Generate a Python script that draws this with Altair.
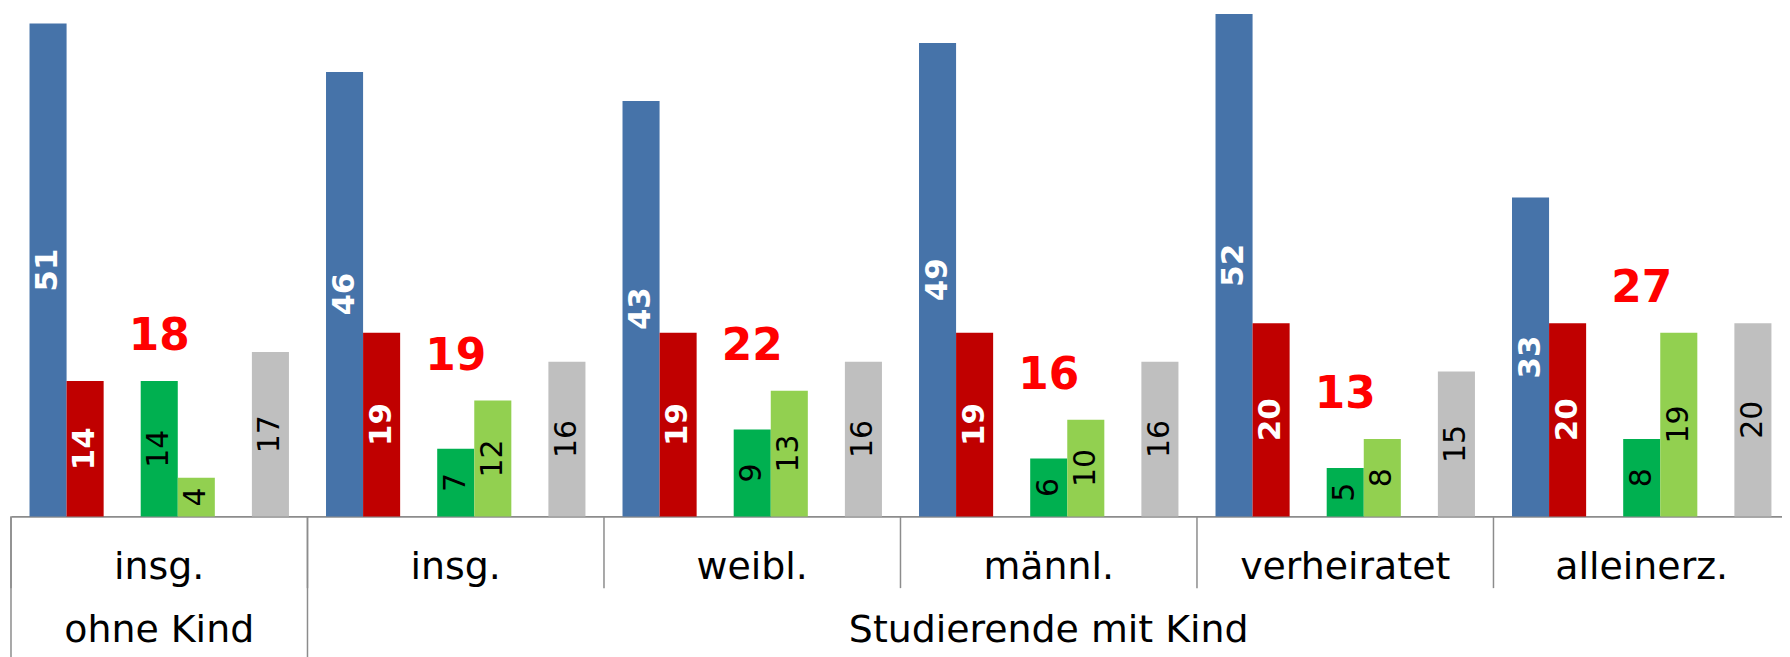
import altair as alt
import pandas as pd

# ---- data ----
group_keys = ["g1", "g2", "g3", "g4", "g5", "g6"]
group_labels = ["insg.", "insg.", "weibl.", "männl.", "verheiratet", "alleinerz."]
series = ["blau", "rot", "dunkelgrün", "hellgrün", "grau"]
blau = [51, 46, 43, 49, 52, 33]
rot = [14, 19, 19, 19, 20, 20]
dunkelgruen = [14, 7, 9, 6, 5, 8]
hellgruen = [4, 12, 13, 10, 8, 19]
grau = [17, 16, 16, 16, 15, 20]
super_labels = ["ohne Kind", "Studierende mit Kind"]
super_keys = ["g1", "g4"]

colors = ["#4673A9", "#C00000", "#00B050", "#92D050", "#BFBFBF"]

values = [blau, rot, dunkelgruen, hellgruen, grau]
rows = []
for s, vals in zip(series, values):
    for g, v in zip(group_keys, vals):
        rows.append({"group": g, "series": s, "value": v})
df = pd.DataFrame(rows)

sums = pd.DataFrame({
    "group": group_keys,
    "dg": dunkelgruen,
    "lg": hellgruen,
})

offset_domain = ["blau", "rot", "_gap1", "dunkelgrün", "hellgrün", "_gap2", "grau"]

W = 1777
H = 509
FONT = "DejaVu Sans"

label_expr = "[" + ",".join("'" + l + "'" for l in group_labels) + "][indexof([" + \
    ",".join("'" + k + "'" for k in group_keys) + "], datum.value)]"

xscale = alt.Scale(domain=group_keys, range=[0, 1785], paddingInner=0, paddingOuter=0)
offscale = alt.Scale(domain=offset_domain, paddingInner=0, paddingOuter=0.5)
yscale = alt.Scale(domain=[0, 52.5], nice=False, zero=True)

xaxis = alt.Axis(title=None, labelExpr=label_expr, labelFontSize=38,
                 labelFont=FONT, labelColor="#000000", labelAngle=0,
                 labelBaseline="alphabetic", labelPadding=62, labelLimit=0,
                 ticks=False, domainColor="#8C8C8C", domainWidth=2,
                 grid=False)


def xenc(**kw):
    return alt.X("group:N", scale=xscale, sort=group_keys, axis=xaxis, **kw)


base = alt.Chart(df)

bars = base.mark_bar().encode(
    x=xenc(),
    xOffset=alt.XOffset("series:N", scale=offscale),
    y=alt.Y("value:Q", scale=yscale, axis=None),
    color=alt.Color("series:N", scale=alt.Scale(domain=series, range=colors), legend=None),
)

lab_white = base.transform_filter(
    alt.FieldOneOfPredicate(field="series", oneOf=["blau", "rot"])
).transform_calculate(mid="datum.value/2").mark_text(
    angle=270, align="center", baseline="middle", font=FONT, fontSize=31,
    fontWeight="bold", color="#FFFFFF"
).encode(
    x=xenc(),
    xOffset=alt.XOffset("series:N", scale=offscale),
    y=alt.Y("mid:Q", scale=yscale, axis=None),
    text=alt.Text("value:Q"),
)

lab_black = base.transform_filter(
    alt.FieldOneOfPredicate(field="series", oneOf=["dunkelgrün", "hellgrün", "grau"])
).transform_calculate(mid="datum.value/2").mark_text(
    angle=270, align="center", baseline="middle", font=FONT, fontSize=30,
    color="#000000"
).encode(
    x=xenc(),
    xOffset=alt.XOffset("series:N", scale=offscale),
    y=alt.Y("mid:Q", scale=yscale, axis=None),
    text=alt.Text("value:Q"),
)

sum_text = alt.Chart(sums).transform_calculate(
    total="datum.dg + datum.lg", top="max(datum.dg, datum.lg)"
).mark_text(
    align="center", baseline="middle", font=FONT, fontSize=44, fontWeight="bold",
    color="#FF0000", dy=-44
).encode(
    x=xenc(),
    y=alt.Y("top:Q", scale=yscale, axis=None),
    text=alt.Text("total:Q"),
)

groups_df = pd.DataFrame({"group": group_keys})
rule_short = alt.Chart(groups_df).mark_rule(color="#8C8C8C", strokeWidth=1.5).encode(
    x=xenc(bandPosition=0),
    y=alt.value(H),
    y2=alt.value(H + 72),
)
rule_long = alt.Chart(pd.DataFrame({"group": group_keys[:2]})).mark_rule(
    color="#8C8C8C", strokeWidth=1.5
).encode(
    x=xenc(bandPosition=0),
    y=alt.value(H),
    y2=alt.value(H + 145),
)

super_text = alt.Chart(pd.DataFrame({"group": super_keys, "label": super_labels})).mark_text(
    align="center", baseline="alphabetic", font=FONT, fontSize=38, color="#000000"
).encode(
    x=xenc(),
    y=alt.value(H + 126),
    text="label:N",
)

chart = alt.layer(bars, lab_white, lab_black, sum_text, rule_short, rule_long, super_text).properties(
    width=W, height=H,
    padding={"left": 3, "top": 0, "right": 0, "bottom": 140},
    autosize=alt.AutoSizeParams(type="none"),
    view=alt.ViewBackground(stroke="transparent", strokeWidth=0),
).configure_view(strokeWidth=0, stroke="transparent").configure(background="#FFFFFF")

chart.save("out.html", embed_options={"renderer": "svg", "actions": False})
